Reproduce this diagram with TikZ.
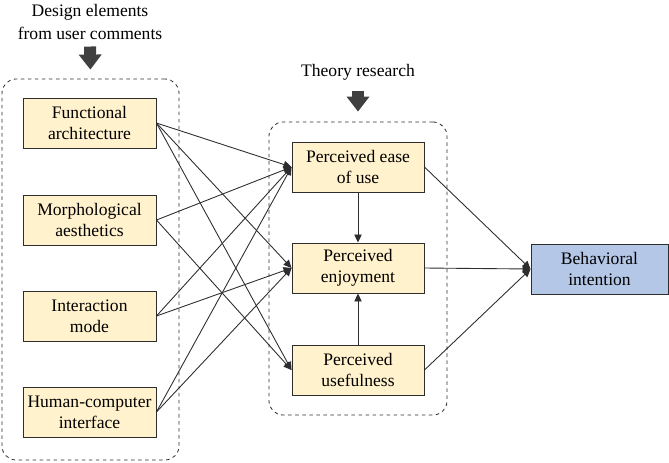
\documentclass[tikz,border=0pt]{standalone}
\usepackage{fontspec}
\setmainfont{Liberation Serif}
\usepackage{tikz}
\usetikzlibrary{arrows.meta,positioning}
\definecolor{boxyellow}{RGB}{255,242,204}
\definecolor{boxblue}{RGB}{180,199,231}
\definecolor{darkline}{RGB}{45,45,45}
\definecolor{blockgrey}{RGB}{64,64,64}

\begin{document}
\begin{tikzpicture}[x=0.03cm, y=-0.03cm, >=Stealth,
    elem/.style={draw=darkline, line width=0.8pt, fill=boxyellow, align=center,
        inner sep=0pt, minimum width=3.99cm, minimum height=1.5cm,
        font=\rmfamily\fontsize{15}{18}\selectfont},
    group/.style={draw=darkline, dashed, line width=0.7pt, rounded corners=12pt,
        inner sep=0pt},
    link/.style={-{Triangle[length=2.4mm,width=2.2mm]}, line width=0.75pt, darkline},
    bigarrow/.style={-{Triangle[length=4.5mm,width=6.6mm]}, line width=3.6mm, blockgrey}]
  \useasboundingbox (0,0) rectangle (669,462);

  % containers
  \node[group, minimum width=5.31cm, minimum height=11.43cm] (left) at (90.5,269.5) {};
  \node[group, minimum width=5.34cm, minimum height=8.79cm] (mid) at (358,268.5) {};

  % headings
  \node[align=center, inner sep=0pt, font=\rmfamily\fontsize{15}{19.5}\selectfont]
    (design) at (90,22) {Design elements\\from user comments};
  \node[inner sep=0pt, font=\rmfamily\fontsize{15}{18}\selectfont]
    (theory) at (358,72) {Theory research};
  \draw[bigarrow, shorten <=0.2cm, shorten >=0.27cm] (design.south) -- (left.north);
  \draw[bigarrow, shorten <=0.33cm, shorten >=0.3cm] (theory.south) -- (mid.north);

  % design elements
  \node[elem] (fa) at (89.5,123) {Functional\\architecture};
  \node[elem] (ma) at (89.5,220) {Morphological\\aesthetics};
  \node[elem] (im) at (89.5,316) {Interaction\\mode};
  \node[elem] (hci) at (89.5,412) {Human-computer\\interface};

  % perceptions
  \node[elem, minimum width=3.96cm] (ease) at (358,167) {Perceived ease\\of use};
  \node[elem, minimum width=3.96cm] (enjoy) at (358,268) {Perceived\\enjoyment};
  \node[elem, minimum width=3.96cm] (useful) at (358,370) {Perceived\\usefulness};

  \node[elem, fill=boxblue, minimum width=4.11cm] (bi) at (599.5,269) {Behavioral\\intention};

  % links
  \draw[link] (fa.east) -- (ease.west);
  \draw[link] (fa.east) -- (enjoy.west);
  \draw[link] (fa.east) -- (useful.west);
  \draw[link] (ma.east) -- (ease.west);
  \draw[link] (ma.east) -- (useful.west);
  \draw[link] (im.east) -- (ease.west);
  \draw[link] (im.east) -- (enjoy.west);
  \draw[link] (hci.east) -- (ease.west);
  \draw[link] (hci.east) -- (enjoy.west);

  \draw[link] (ease.south) -- (enjoy.north);
  \draw[link] (useful.north) -- (enjoy.south);

  \draw[link] (ease.east) -- (bi.west);
  \draw[link] (enjoy.east) -- (bi.west);
  \draw[link] (useful.east) -- (bi.west);
\end{tikzpicture}
\end{document}
